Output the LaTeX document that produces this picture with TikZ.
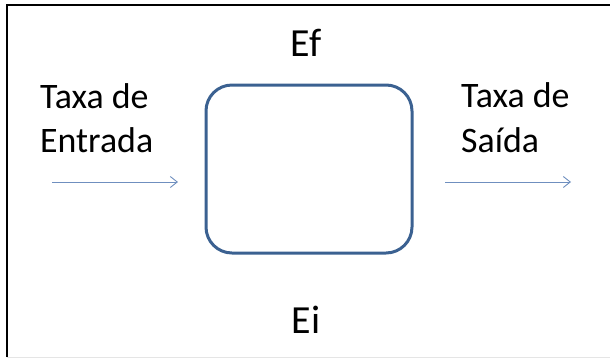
\documentclass[tikz,border=0pt]{standalone}
\usepackage{fontspec}
\setmainfont{Carlito}
\usetikzlibrary{arrows.meta}
\definecolor{boxblue}{HTML}{3B6191}
\definecolor{flowblue}{HTML}{6F8FBF}
\begin{document}
\begin{tikzpicture}[x=1bp,y=-1bp,
  big/.style={font=\fontsize{40}{48}\selectfont, inner sep=0pt, anchor=base},
  label/.style={font=\fontsize{36}{44}\selectfont, inner sep=0pt, anchor=base west, align=left},
  flow/.style={draw=flowblue, line width=0.9bp, -{Straight Barb[length=7bp,width=11bp,line width=0.9bp]}},
  stock/.style={draw=boxblue, line width=3bp, rounded corners=26bp}]
  \useasboundingbox (0,0) rectangle (610,358);
  % frame
  \draw[line width=2.2bp] (7,357) -- (7,5) -- (612,5);
  \draw[gray!20, line width=1bp] (7,357) -- (612,357);
  % stock box
  \draw[stock] (206,85) rectangle (412,253);
  \node[big] (ef) at (306,56) {Ef};
  \node[big] (ei) at (306,333) {Ei};
  % inflow
  \node[label] (in1) at (40,108) {Taxa de};
  \node[label] (in2) at (40,152) {Entrada};
  \coordinate (ina) at (52,182);
  \coordinate (inb) at (178,182);
  \draw[flow] (ina) -- (inb);
  % outflow
  \node[label] (out1) at (461,107) {Taxa de};
  \node[label] (out2) at (461,152) {Saída};
  \coordinate (outa) at (445,182);
  \coordinate (outb) at (571,182);
  \draw[flow] (outa) -- (outb);
\end{tikzpicture}
\end{document}
